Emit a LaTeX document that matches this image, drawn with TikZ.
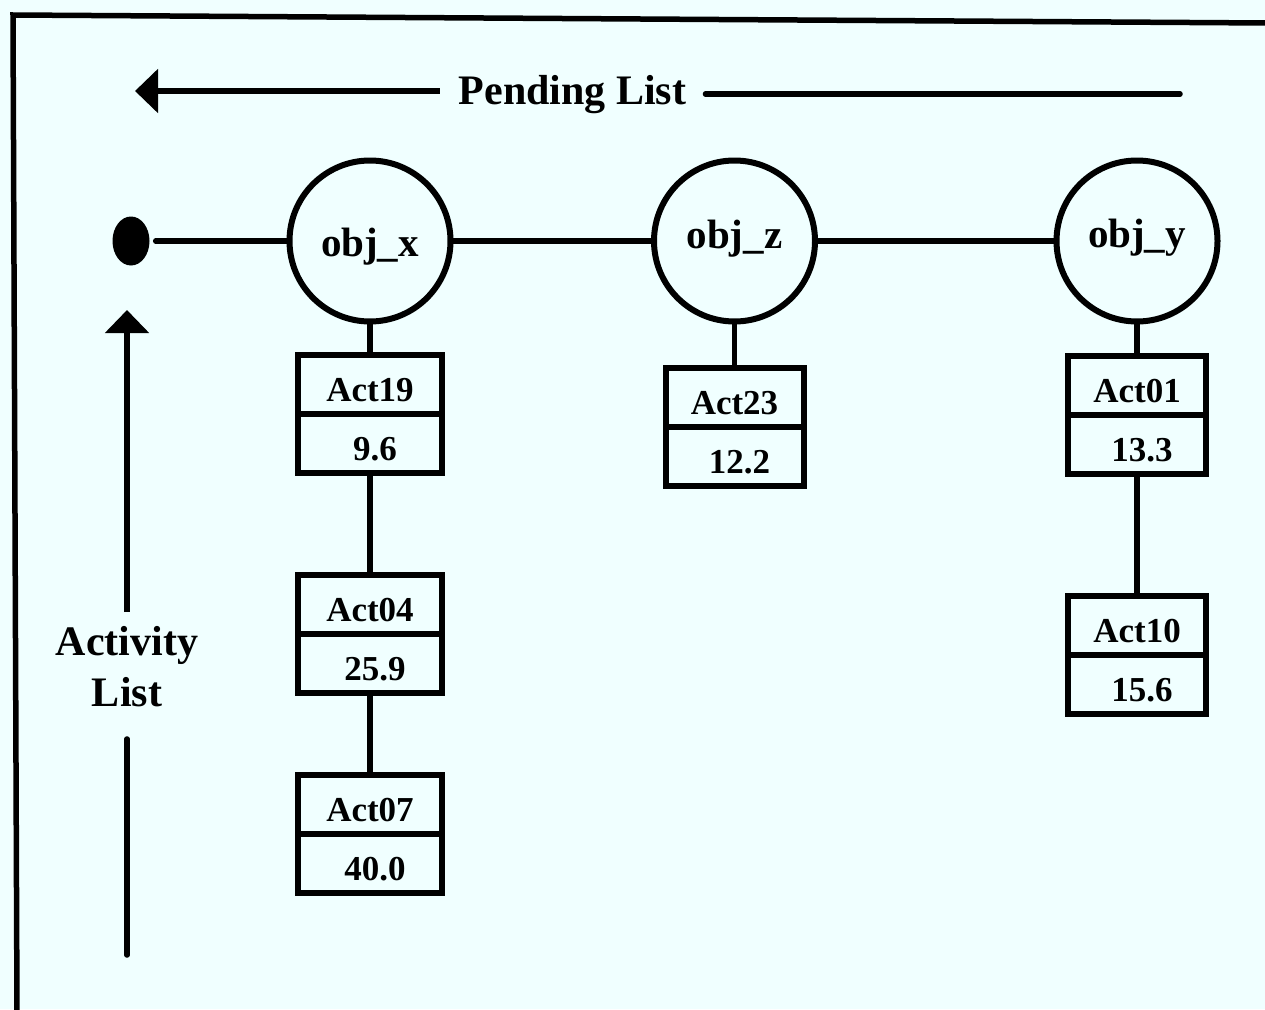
\documentclass[tikz,border=0pt]{standalone}
\usepackage{fontspec}
\setmainfont{Liberation Serif}
\usetikzlibrary{arrows.meta,shapes.geometric}
\definecolor{bgc}{RGB}{240,255,255}
\begin{document}
\begin{tikzpicture}[x=1pt,y=-1pt,
  conn/.style={line width=5.5pt,line cap=round},
  arr/.style={line width=5.5pt,-{Triangle[length=23pt,width=43pt]}},
  objnode/.style={circle,draw,line width=6pt,minimum size=161pt,inner sep=0pt,
    font=\fontsize{41}{41}\selectfont\bfseries,text depth=0pt},
  cell/.style={rectangle,draw,line width=6pt,inner sep=0pt,minimum height=59pt,
    font=\fontsize{35}{35}\selectfont\bfseries,text height=34pt,text depth=0pt},
  lab/.style={font=\fontsize{42}{51}\selectfont\bfseries},
  dotnode/.style={ellipse,fill=black,minimum width=37pt,minimum height=49pt,inner sep=0pt}]
\fill[bgc] (0,0) rectangle (1265,1009);
\useasboundingbox (0,0) rectangle (1265,1009);
% frame
\draw[line width=5.5pt] (17,1012) -- (13,15) -- (1268,23);
% pending list
\node[lab,inner xsep=19pt,inner ysep=0pt] (pl) at (572.5,95) {Pending List};
\coordinate (pltip) at (135,91);
\coordinate (plend) at (1180,94);
\draw[arr] (pl.west |- pltip) -- (pltip);
\draw[conn] (pl.east |- plend) -- (plend);
% activity list
\node[lab,align=center,inner sep=0pt] (al) at (127,666.5) {Activity\\List};
\coordinate (altip) at (127,310);
\coordinate (alend) at (127,955);
\draw[arr] ([yshift=14pt]al.north) -- (altip);
\draw[conn] ([yshift=-32pt]al.south) -- (alend);
% objects
\node[dotnode] (dot) at (131,241) {};
\node[objnode,text height=30pt] (ox) at (370,241) {obj\_x};
\node[objnode,text height=14pt] (oz) at (734.5,241) {obj\_z};
\node[objnode,text height=12pt] (oy) at (1137,241) {obj\_y};
% activity cells
\node[cell,minimum width=144pt] (a19) at (370,384.5) {Act19};
\node[cell,minimum width=144pt] (v19) at (370,443.5) {\kern10pt 9.6};
\node[cell,minimum width=144pt] (a04) at (370,604.5) {Act04};
\node[cell,minimum width=144pt] (v04) at (370,663.5) {\kern10pt 25.9};
\node[cell,minimum width=144pt] (a07) at (370,804.5) {Act07};
\node[cell,minimum width=144pt] (v07) at (370,863.5) {\kern10pt 40.0};
\node[cell,minimum width=138pt] (a23) at (734.5,397.5) {Act23};
\node[cell,minimum width=138pt] (v23) at (734.5,456.5) {\kern10pt 12.2};
\node[cell,minimum width=138pt] (a01) at (1137,385.5) {Act01};
\node[cell,minimum width=138pt] (v01) at (1137,444.5) {\kern10pt 13.3};
\node[cell,minimum width=138pt] (a10) at (1137,625.5) {Act10};
\node[cell,minimum width=138pt] (v10) at (1137,684.5) {\kern10pt 15.6};
% connectors
\draw[conn,shorten <=6pt] (dot) -- (ox);
\draw[conn] (ox) -- (oz);
\draw[conn] (oz) -- (oy);
\draw[conn] (ox) -- (a19);
\draw[conn] (v19) -- (a04);
\draw[conn] (v04) -- (a07);
\draw[conn] (oz) -- (a23);
\draw[conn] (oy) -- (a01);
\draw[conn] (v01) -- (a10);
\end{tikzpicture}
\end{document}
